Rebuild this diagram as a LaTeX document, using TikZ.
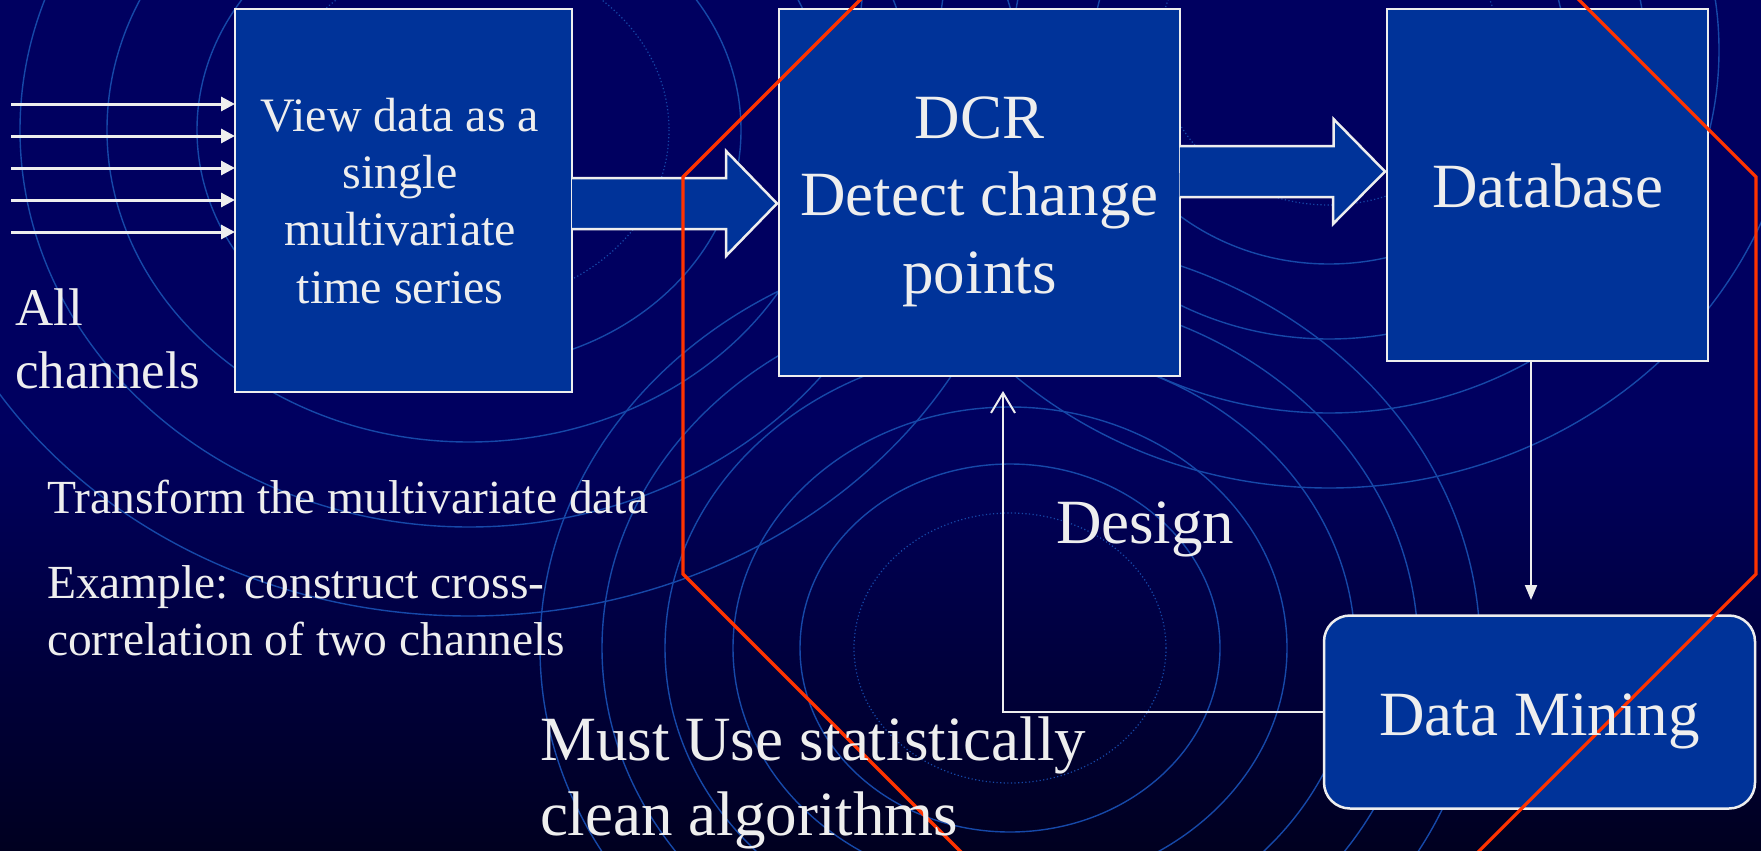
\documentclass[tikz,border=0pt]{standalone}
\usepackage{fontspec}
\setmainfont{Liberation Serif}
\usetikzlibrary{arrows.meta,calc}
\definecolor{bgtop}{RGB}{0,0,96}
\definecolor{bgbot}{RGB}{0,0,32}
\definecolor{boxblue}{RGB}{0,51,153}
\definecolor{ringblue}{RGB}{22,72,168}
\definecolor{redline}{RGB}{255,51,0}
\definecolor{fg}{RGB}{238,238,238}
\begin{document}
\begin{tikzpicture}[x=1pt,y=-1pt,
  box/.style={draw=fg,fill=boxblue,line width=2.5pt,inner sep=0pt,outer sep=0pt},
  blockarrow/.style={draw=fg,fill=boxblue,line width=2.5pt,line join=miter},
  chan/.style={draw=fg,line width=3pt,-{Triangle[length=14pt,width=14pt]}},
  thinline/.style={draw=fg,line width=2pt},
  txt/.style={text=fg,inner sep=0pt,outer sep=0pt},
  ring/.style={draw=ringblue,line width=1.4pt},
  dotring/.style={draw=ringblue,line width=1.2pt,dash pattern=on 1.2pt off 2.4pt},
  redl/.style={draw=redline,line width=3.2pt,line join=miter}
]
\useasboundingbox (0,0) rectangle (1761,851);
\begin{scope}
\clip (0,0) rectangle (1761,851);
\fill[bgtop] (0,0) rectangle (1761,431);
\shade[top color=bgtop,bottom color=bgbot] (0,430) rectangle (1761,851);
% background rings
\draw[dotring] (1010,648) ellipse [x radius=156, y radius=135];
\foreach \r/\s in {210/184,277/241,345/300,408/355,470/410}
  \draw[ring] (1010,648) ellipse [x radius=\r, y radius=\s];
\draw[dotring] (469,130) ellipse [x radius=200, y radius=174];
\foreach \r/\s in {272/237,362/312,449/397,559/486}
  \draw[ring] (469,130) ellipse [x radius=\r, y radius=\s];
\draw[dotring] (1329,50) ellipse [x radius=170, y radius=155];
\foreach \r/\s in {236/214,316/289,390/363,470/438}
  \draw[ring] (1329,50) ellipse [x radius=\r, y radius=\s];

% boxes
\node[box,minimum width=337pt,minimum height=383pt] (b1) at (403.5,200.5) {};
\node[box,minimum width=401pt,minimum height=367pt] (b2) at (979.5,192.5) {};
\node[box,minimum width=321pt,minimum height=352pt] (b3) at (1547.5,185) {};
\node[box,rounded corners=26pt,minimum width=431pt,minimum height=193pt] (b4) at (1539.5,712) {};

% block arrows
\draw[blockarrow] ($(b1.east)+(0,-22.5)$) -- ++(154,0) -- ++(0,-27)
  -- ($(b2.west)+(-2,11)$) -- ++(-51,52.5) -- ++(0,-27) -- ++(-154,0);
\draw[blockarrow] ($(b2.east)+(0,-46.5)$) -- ++(153.5,0) -- ++(0,-27)
  -- ($(b3.west)+(-2,-13.5)$) -- ++(-52,52.5) -- ++(0,-27) -- ++(-153.5,0);

% input channels
\foreach \y [count=\i] in {104,136,168,200,232} \coordinate (c\i) at (11,\y);
\foreach \i in {1,...,5} \draw[chan] (c\i) -- (c\i -| b1.west);

% database -> data mining
\coordinate (dbout) at ($(b3.south)+(-16.5,0)$);
\draw[thinline,-{Triangle[length=15pt,width=12pt]},shorten >=15.5pt] (dbout) -- (dbout |- b4.north);

% feedback data mining -> DCR
\coordinate (fbtop) at ($(b2.south)+(23.5,0)$);
\draw[thinline,-{Straight Barb[length=20pt,width=24pt]},shorten >=15pt] (b4.west) -| (fbtop);

% red outline
\draw[redl] (866,-6) -- (683,177) -- (683,574) -- (966,857);
\draw[redl] (1573,-6) -- (1756,177) -- (1756,574) -- (1473,857);

% texts (anchor base = baseline of the last line)
\node[txt,font=\fontsize{48}{57.3}\selectfont,align=center,anchor=base] (t1) at (400,303)
  {View data as a\\single\\multivariate\\time series};
\node[txt,font=\fontsize{63}{77.5}\selectfont,align=center,anchor=base] (t2) at (979.5,293)
  {DCR\\Detect change\\points};
\node[txt,font=\fontsize{63}{75}\selectfont,anchor=base] (t3) at (1547.5,207) {Database};
\node[txt,font=\fontsize{63}{75}\selectfont,anchor=base] (t4) at (1539.5,735) {Data Mining};
\node[txt,font=\fontsize{53}{63}\selectfont,align=left,anchor=base west] (t5) at (15,388) {All\\channels};
\node[txt,font=\fontsize{47.5}{57}\selectfont,anchor=base west] (t6) at (47,513) {Transform the multivariate data};
\node[txt,font=\fontsize{47.5}{57}\selectfont,align=left,anchor=base west] (t7) at (47,655)
  {Example: construct cross-\\correlation of two channels};
\node[txt,font=\fontsize{63}{75}\selectfont,align=left,anchor=base west] (t8) at (540,835)
  {Must Use statistically\\clean algorithms};
\node[txt,font=\fontsize{63}{75}\selectfont,anchor=base west] (t9) at (1056,543) {Design};
\end{scope}
\end{tikzpicture}
\end{document}
